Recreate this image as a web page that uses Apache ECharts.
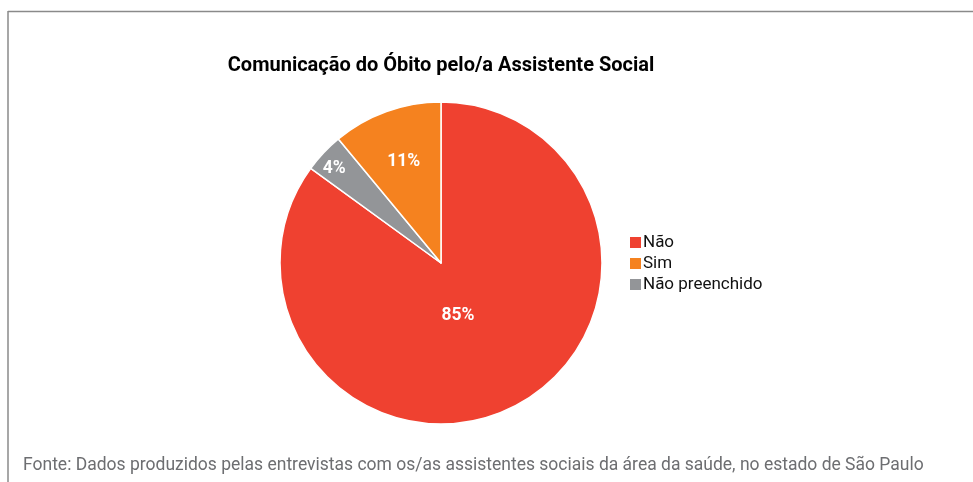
<!DOCTYPE html>
<html>
<head>
<meta charset="utf-8">
<script src="https://cdn.jsdelivr.net/npm/echarts@6/dist/echarts.min.js"></script>
<style>
  html, body { margin: 0; padding: 0; background: #fff; }
  #chart { width: 973px; height: 482px; }
</style>
</head>
<body>
<div id="chart"></div>
<script>
// Slice categories in clockwise drawing order, starting at 12 o'clock
const categories = ['Não', 'Não preenchido', 'Sim'];
const shares = [85, 4, 11];
const legendOrder = ['Não', 'Sim', 'Não preenchido'];
const sliceColors = ['#EF4130', '#939598', '#F5821F'];
// Small nudges so the percentage labels sit where they read best
const labelOffsets = [[-21, -22], [-46, -37], [-9, -23]];

const chart = echarts.init(document.getElementById('chart'), null, { renderer: 'canvas' });

chart.setOption({
  animation: false,
  backgroundColor: '#ffffff',
  title: {
    text: 'Comunicação do Óbito pelo/a Assistente Social',
    left: 436,
    textAlign: 'center',
    top: 51,
    textStyle: { fontFamily: 'Roboto', fontWeight: 'bold', fontSize: 20, color: '#000' }
  },
  legend: {
    data: legendOrder,
    orient: 'vertical',
    left: 623,
    top: 229,
    itemWidth: 13,
    itemHeight: 13,
    itemGap: 4,
    icon: 'rect',
    textStyle: { fontFamily: 'Roboto', fontSize: 17, lineHeight: 17, color: '#111', padding: [0, 0, 0, -4] }
  },
  graphic: [
    { type: 'line', shape: { x1: 8, y1: 11.5, x2: 973, y2: 11.5 }, style: { stroke: '#8a8a8a', lineWidth: 1.5 } },
    { type: 'line', shape: { x1: 8, y1: 11, x2: 8, y2: 482 }, style: { stroke: '#8a8a8a', lineWidth: 1.5 } },
    {
      type: 'text', left: 23, top: 457,
      style: {
        text: 'Fonte: Dados produzidos pelas entrevistas com os/as assistentes sociais da área da saúde, no estado de São Paulo',
        fontFamily: 'Roboto', fontSize: 17.5, fill: '#6d6e71'
      }
    }
  ],
  series: [{
    type: 'pie',
    center: [441, 263],
    radius: [0, 161],
    startAngle: 90,
    clockwise: true,
    avoidLabelOverlap: false,
    itemStyle: { borderColor: '#ffffff', borderWidth: 1.5 },
    label: {
      show: true,
      position: 'inside',
      formatter: '{c}%',
      fontFamily: 'Roboto',
      fontWeight: 'bold',
      fontSize: 17.5,
      color: '#ffffff'
    },
    labelLine: { show: false },
    emphasis: { disabled: true },
    data: categories.map((name, i) => ({
      name,
      value: shares[i],
      itemStyle: { color: sliceColors[i] },
      label: { offset: labelOffsets[i] }
    }))
  }]
});
</script>
</body>
</html>
